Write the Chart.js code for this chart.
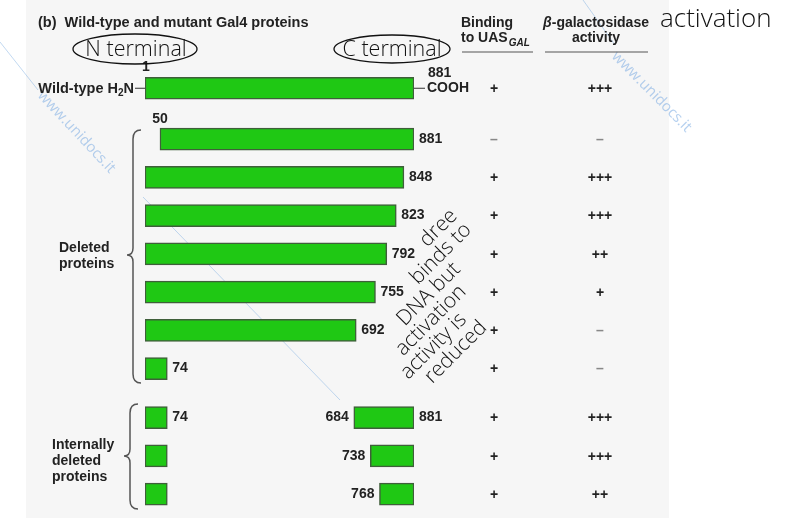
<!DOCTYPE html>
<html>
<head>
<meta charset="utf-8">
<script src="https://cdn.jsdelivr.net/npm/chart.js@4"></script>
<style>
  html, body { margin: 0; padding: 0; background: #fff; }
  #wrap { width: 792px; height: 518px; position: relative; }
</style>
</head>
<body>
<div id="wrap"><canvas id="gal4"></canvas></div>
<script>
// Gal4 constructs (amino acid ranges), top to bottom
const constructs = ['Wild-type', '50-881', '1-848', '1-823', '1-792', '1-755', '1-692', '1-74',
                    '1-74/684-881', '1-74/738-881', '1-74/768-881'];
const nStart = [1, 50, 1, 1, 1, 1, 1, 1, 1, 1, 1];
const nEnd = [881, 881, 848, 823, 792, 755, 692, 74, 74, 74, 74];
const cStart = [null, null, null, null, null, null, null, null, 684, 738, 768];
const cEnd = [null, null, null, null, null, null, null, null, 881, 881, 881];
const binding = ['+', '–', '+', '+', '+', '+', '+', '+', '+', '+', '+'];
const activity = ['+++', '–', '+++', '+++', '++', '+', '–', '–', '+++', '+++', '++'];
const noteLines = ['dree', 'binds to', 'DNA but', 'activation', 'activity is', 'reduced'];

// rows 1.. are set off from wild type, internal deletions set off again
function rowPos(i) {
  return i + (i >= 1 ? 0.33 : 0) + (i >= 8 ? 0.28 : 0);
}

const nData = constructs.map((c, i) => ({ x: [nStart[i], nEnd[i]], y: rowPos(i) }));
const cData = [];
constructs.forEach((c, i) => {
  if (cStart[i] != null) cData.push({ x: [cStart[i], cEnd[i]], y: rowPos(i) });
});

const SANS = '"Liberation Sans", Arial, sans-serif';
const HAND = '"Open Sans", "DejaVu Sans", sans-serif';

function txt(ctx, s, x, y, font, align, base, color) {
  ctx.font = font;
  ctx.textAlign = align || 'left';
  ctx.textBaseline = base || 'alphabetic';
  ctx.fillStyle = color || '#222';
  ctx.fillText(s, x, y);
}

function brace(ctx, xr, top, bot, mid) {
  const xl = xr - 8, xt = xr - 14;
  ctx.beginPath();
  ctx.moveTo(xr, top);
  ctx.quadraticCurveTo(xl, top, xl, top + 9);
  ctx.lineTo(xl, mid - 7);
  ctx.quadraticCurveTo(xl, mid, xt, mid);
  ctx.quadraticCurveTo(xl, mid, xl, mid + 7);
  ctx.lineTo(xl, bot - 9);
  ctx.quadraticCurveTo(xl, bot, xr, bot);
  ctx.stroke();
}

const backdrop = {
  id: 'backdrop',
  beforeDraw(chart) {
    const ctx = chart.ctx;
    ctx.save();
    ctx.fillStyle = '#ffffff';
    ctx.fillRect(0, 0, chart.width, chart.height);
    ctx.fillStyle = '#f6f6f6';
    ctx.fillRect(26, 0, 643, chart.height);
    // faint watermark
    ctx.strokeStyle = 'rgba(120,170,225,0.45)';
    ctx.lineWidth = 1;
    ctx.beginPath();
    ctx.moveTo(0, 42); ctx.lineTo(38, 90);
    ctx.moveTo(143, 197); ctx.lineTo(340, 400);
    ctx.moveTo(583, 0); ctx.lineTo(615, 45);
    ctx.stroke();
    [[40, 93, 0.82], [614, 54, 0.79]].forEach(w => {
      ctx.save();
      ctx.translate(w[0], w[1]);
      ctx.rotate(w[2]);
      txt(ctx, 'www.unidocs.it', 0, 0, '15px ' + HAND, 'left', 'middle', 'rgba(120,170,225,0.55)');
      ctx.restore();
    });
    ctx.restore();
  }
};

const labels = {
  id: 'labels',
  afterDatasetsDraw(chart) {
    const ctx = chart.ctx;
    const xs = chart.scales.x, ys = chart.scales.y;
    const B14 = 'bold 14px ' + SANS;
    ctx.save();

    // header
    txt(ctx, '(b)  Wild-type and mutant Gal4 proteins', 38, 27, 'bold 14.5px ' + SANS);
    txt(ctx, 'Binding', 461, 27, B14);
    txt(ctx, 'to UAS', 461, 42, B14);
    ctx.font = B14;
    const wUas = ctx.measureText('to UAS').width;
    txt(ctx, 'GAL', 461 + wUas + 1, 46, 'italic bold 10px ' + SANS);
    ctx.font = 'italic bold 14px ' + SANS;
    const wBeta = ctx.measureText('β').width;
    ctx.font = B14;
    const wRest = ctx.measureText('-galactosidase').width;
    const gx = 596 - (wBeta + wRest) / 2;
    txt(ctx, 'β', gx, 27, 'italic bold 14px ' + SANS);
    txt(ctx, '-galactosidase', gx + wBeta, 27, B14);
    txt(ctx, 'activity', 596, 42, B14, 'center');
    ctx.strokeStyle = '#555';
    ctx.lineWidth = 1.2;
    ctx.beginPath();
    ctx.moveTo(462, 52); ctx.lineTo(533, 52);
    ctx.moveTo(545, 52); ctx.lineTo(648, 52);
    ctx.stroke();

    // bar end labels
    constructs.forEach((c, i) => {
      const y = ys.getPixelForValue(rowPos(i));
      const x0 = xs.getPixelForValue(nStart[i]);
      const x1 = xs.getPixelForValue(nEnd[i]);
      if (i === 0) {
        txt(ctx, String(nStart[i]), x0 + 1, y - 17, B14, 'center');
        txt(ctx, String(nEnd[i]), x1 + 14, y - 11, B14, 'left');
        txt(ctx, 'COOH', x1 + 13, y, B14, 'left', 'middle');
        ctx.strokeStyle = '#333';
        ctx.beginPath();
        ctx.moveTo(x1, y); ctx.lineTo(x1 + 11, y);
        ctx.moveTo(x0 - 10, y); ctx.lineTo(x0, y);
        ctx.stroke();
        // Wild-type H2N
        const B145 = 'bold 14.5px ' + SANS;
        ctx.font = B145;
        const wN = ctx.measureText('N').width;
        ctx.font = 'bold 10px ' + SANS;
        const w2 = ctx.measureText('2').width;
        const right = x0 - 11;
        txt(ctx, 'N', right, y + 5, B145, 'right');
        txt(ctx, '2', right - wN, y + 8, 'bold 10px ' + SANS, 'right');
        txt(ctx, 'Wild-type H', right - wN - w2, y + 5, B145, 'right');
      } else {
        if (nStart[i] > 1) txt(ctx, String(nStart[i]), x0, y - 16, B14, 'center');
        if (cStart[i] == null || i === 8) txt(ctx, String(nEnd[i]), x1 + 5, y, B14, 'left', 'middle');
      }
      if (cStart[i] != null) {
        const c0 = xs.getPixelForValue(cStart[i]);
        const c1 = xs.getPixelForValue(cEnd[i]);
        txt(ctx, String(cStart[i]), c0 - 5, y, B14, 'right', 'middle');
        if (i === 8) txt(ctx, String(cEnd[i]), c1 + 5, y, B14, 'left', 'middle');
      }
      // table columns
      const bc = binding[i] === '–' ? '#888' : '#222';
      const ac = activity[i] === '–' ? '#888' : '#222';
      txt(ctx, binding[i], 494, y + 1, B14, 'center', 'middle', bc);
      txt(ctx, activity[i], 600, y + 1, B14, 'center', 'middle', ac);
    });

    // braces and group labels
    ctx.strokeStyle = '#555';
    ctx.lineWidth = 1.5;
    brace(ctx, 141, 130, 383, 255);
    brace(ctx, 138, 404, 509, 456);
    txt(ctx, 'Deleted', 59, 252, B14);
    txt(ctx, 'proteins', 59, 268, B14);
    txt(ctx, 'Internally', 52, 449, B14);
    txt(ctx, 'deleted', 52, 465, B14);
    txt(ctx, 'proteins', 52, 481, B14);

    // handwritten notes
    ctx.strokeStyle = '#111';
    ctx.lineWidth = 1.3;
    ctx.beginPath();
    ctx.ellipse(135, 49, 62, 15, 0, 0, Math.PI * 2);
    ctx.stroke();
    ctx.beginPath();
    ctx.ellipse(392, 49, 58, 14, 0, 0, Math.PI * 2);
    ctx.stroke();
    txt(ctx, 'N terminal', 136, 50, '300 21.5px ' + HAND, 'center', 'middle', '#111');
    txt(ctx, 'C terminal', 392, 50, '300 21.5px ' + HAND, 'center', 'middle', '#111');
    txt(ctx, 'activation', 660, 20, '300 26px ' + HAND, 'left', 'middle', '#111');

    const starts = [28, -5, -44, -66, -79, -65];
    ctx.save();
    ctx.translate(440, 300);
    ctx.rotate(-Math.PI / 4);
    noteLines.forEach((s, k) => {
      txt(ctx, s, starts[k], -52 + 20 * k, '300 21px ' + HAND, 'left', 'middle', '#111');
    });
    ctx.restore();

    ctx.restore();
  }
};

const barStyle = {
  backgroundColor: '#1fc814',
  borderColor: '#3f5f3a',
  borderWidth: 1.5,
  borderSkipped: false,
  barThickness: 22,
  grouped: false
};

new Chart(document.getElementById('gal4'), {
  type: 'bar',
  data: {
    datasets: [
      Object.assign({ label: 'N-terminal segment', data: nData }, barStyle),
      Object.assign({ label: 'C-terminal segment', data: cData }, barStyle)
    ]
  },
  options: {
    indexAxis: 'y',
    responsive: true,
    maintainAspectRatio: false,
    animation: false,
    layout: { padding: { left: 145, right: 378, top: 50, bottom: 9 } },
    scales: {
      x: { type: 'linear', min: 1, max: 881, display: false },
      y: { type: 'linear', min: -1, max: 11, reverse: true, offset: false, display: false }
    },
    plugins: {
      legend: { display: false },
      tooltip: { enabled: false }
    }
  },
  plugins: [backdrop, labels]
});
</script>
</body>
</html>
